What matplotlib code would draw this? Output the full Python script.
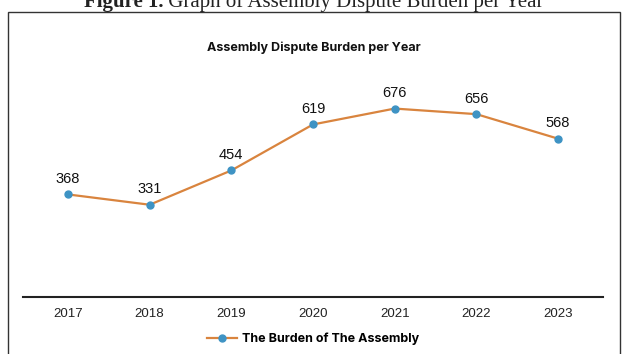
import matplotlib
matplotlib.use("Agg")
import matplotlib.pyplot as plt
from matplotlib.patches import Rectangle

years = ["2017", "2018", "2019", "2020", "2021", "2022", "2023"]
burden = [368, 331, 454, 619, 676, 656, 568]
series_name = "The Burden of The Assembly"
chart_title = "Assembly Dispute Burden per Year"
caption_bold = "Figure 1."
caption_rest = " Graph of Assembly Dispute Burden per Year"

W, H = 627, 354
fig = plt.figure(figsize=(W / 100, H / 100), dpi=100)
fig.patch.set_facecolor("white")

# frame around the chart
fig.patches.append(Rectangle((8 / W, -0.1), 612 / W, 1 - 12 / H + 0.1,
                             transform=fig.transFigure, fill=False,
                             edgecolor="#333333", linewidth=1.0))

# caption above the frame: bold label followed by regular text, centred as a whole
cap_kw = dict(va="baseline", fontsize=15, family="Liberation Serif", color="#222222")
t1 = fig.text(0, 1 - 7 / H, caption_bold, fontweight="bold", **cap_kw)
t2 = fig.text(0, 1 - 7 / H, caption_rest, **cap_kw)
fig.canvas.draw()
r = fig.canvas.get_renderer()
w1 = t1.get_window_extent(r).width
w2 = t2.get_window_extent(r).width
x0 = (W - (w1 + w2)) / 2
t1.set_x(x0 / W)
t2.set_x((x0 + w1) / W)

ax = fig.add_axes([23 / W, 1 - 297 / H, 580 / W, (297 - 74) / H])
x = list(range(len(years)))
ax.plot(x, burden, color="#D9843E", linewidth=1.6, marker="o", markersize=5,
        markerfacecolor="#3E93C4", markeredgecolor="#3E93C4", label=series_name, zorder=3)
for xi, v in zip(x, burden):
    ax.annotate(str(v), (xi, v), xytext=(0, 6), textcoords="offset points",
                ha="center", va="bottom", fontsize=10.5, family="Liberation Sans", color="#111111")

ax.set_xlim(-0.55, len(years) - 0.45)
ax.set_ylim(0, 800)
ax.set_xticks(x)
ax.set_xticklabels(years, family="Liberation Sans", fontsize=9.5, color="#222222")
ax.set_yticks([])
for s in ["top", "left", "right"]:
    ax.spines[s].set_visible(False)
ax.spines["bottom"].set_linewidth(1.5)
ax.spines["bottom"].set_color("#222222")
ax.tick_params(axis="x", length=0, pad=8)

fig.text(0.5, 1 - 48 / H, chart_title, ha="center", va="center",
         fontsize=9, fontweight="bold", family="Inter", color="#111111")

leg = fig.legend(loc="center", bbox_to_anchor=(0.5, 1 - 339 / H), frameon=False,
                 prop={"family": "Inter", "weight": "bold", "size": 9},
                 handlelength=2.4, handletextpad=0.4)

fig.savefig("out.png", dpi=100, facecolor="white")
